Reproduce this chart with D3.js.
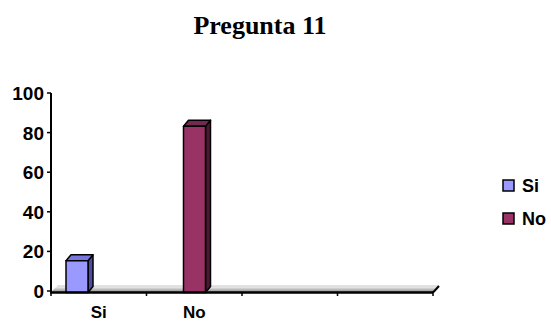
<!DOCTYPE html>
<html>
<head>
<meta charset="utf-8">
<script src="https://cdn.jsdelivr.net/npm/d3@7"></script>
<style>
  body { margin: 0; background: #fff; }
  text { font-family: Arial, "Liberation Sans", sans-serif; font-weight: bold; }
</style>
</head>
<body>
<div class="container"></div>
<script>
  // chart data
  var categories = ["Si", "No", "", ""];
  var seriesNames = ["Si", "No"];
  var valuesSi = [16, 0, 0, 0];
  var valuesNo = [0, 84, 0, 0];
  var yTicks = [0, 20, 40, 60, 80, 100];
  var title = "Pregunta 11";

  // frame attributes
  var w = 551;
  var h = 322;
  var svg = d3.select(".container").append("svg").attr("width", w).attr("height", h);

  var colors = {
    Si: { front: "#9999ff", side: "#4c4ca0", top: "#7777dd" },
    No: { front: "#993366", side: "#4c1933", top: "#772850" }
  };

  var depthX = 5, depthY = -6;

  var x = d3.scaleBand().domain(d3.range(categories.length)).range([51, 433]);
  var xInner = d3.scaleBand().domain(seriesNames).range([15, 59]);
  var y = d3.scaleLinear().domain([0, 100]).range([291, 93]);

  // title
  svg.append("text")
    .attr("x", 260).attr("y", 34)
    .attr("text-anchor", "middle")
    .style("font-family", "'Liberation Serif', 'Times New Roman', serif")
    .style("font-size", "26px")
    .text(title);

  // floor
  var defs = svg.append("defs");
  var grad = defs.append("linearGradient").attr("id", "floorGrad")
    .attr("x1", 0).attr("y1", 0).attr("x2", 0).attr("y2", 1);
  grad.append("stop").attr("offset", "0%").attr("stop-color", "#ffffff");
  grad.append("stop").attr("offset", "100%").attr("stop-color", "#8c8c8c");

  var x0 = x.range()[0], x1 = x.range()[1];
  svg.append("polygon")
    .attr("points", [[x0, y(0) + 1], [x0 + 6, y(0) - 5], [x1 + 6, y(0) - 5], [x1, y(0) + 1]].join(" "))
    .attr("fill", "url(#floorGrad)");
  svg.append("line")
    .attr("x1", x0 + 6).attr("x2", x1 + 6)
    .attr("y1", y(0) - 5).attr("y2", y(0) - 5)
    .attr("stroke", "#c8c8c8").attr("stroke-width", 1);
  svg.append("line")
    .attr("x1", x1).attr("x2", x1 + 6)
    .attr("y1", y(0) + 1.5).attr("y2", y(0) - 5)
    .attr("stroke", "#000").attr("stroke-width", 2);

  // bars
  var bars = [];
  categories.forEach(function(c, i){
    bars.push({ cat: i, s: "Si", v: valuesSi[i] });
    bars.push({ cat: i, s: "No", v: valuesNo[i] });
  });
  bars = bars.filter(function(d){ return d.v > 0; });

  var g = svg.append("g").attr("stroke", "#000").attr("stroke-width", 1.5).attr("stroke-linejoin", "round");
  bars.forEach(function(d){
    var bx = x(d.cat) + xInner(d.s);
    var bw = xInner.bandwidth();
    var top = y(d.v) + 1.5;
    var bottom = y(0) + 1.5;
    // side
    g.append("polygon")
      .attr("points", [[bx + bw, top], [bx + bw + depthX, top + depthY], [bx + bw + depthX, bottom + depthY], [bx + bw, bottom]].join(" "))
      .attr("fill", colors[d.s].side);
    // top
    g.append("polygon")
      .attr("points", [[bx, top], [bx + depthX, top + depthY], [bx + bw + depthX, top + depthY], [bx + bw, top]].join(" "))
      .attr("fill", colors[d.s].top);
    // front
    g.append("rect")
      .attr("x", bx).attr("y", top)
      .attr("width", bw).attr("height", bottom - top)
      .attr("fill", colors[d.s].front);
  });

  // x axis
  svg.append("line")
    .attr("x1", x0).attr("x2", x1)
    .attr("y1", y(0) + 1.5).attr("y2", y(0) + 1.5)
    .attr("stroke", "#000").attr("stroke-width", 2.5);
  var xTickPos = d3.range(categories.length + 1).map(function(i){ return x0 + i * x.step(); });
  svg.selectAll(".xtick").data(xTickPos).enter().append("line")
    .attr("x1", function(d){ return d; }).attr("x2", function(d){ return d; })
    .attr("y1", y(0) + 1).attr("y2", y(0) + 5)
    .attr("stroke", "#000").attr("stroke-width", 1.5);
  svg.selectAll(".xlabel").data(categories).enter().append("text")
    .attr("x", function(d, i){ return x(i) + x.bandwidth() / 2; })
    .attr("y", 318)
    .attr("text-anchor", "middle")
    .style("font-size", "17px")
    .text(function(d){ return d; });

  // y axis
  svg.append("line")
    .attr("x1", x0).attr("x2", x0)
    .attr("y1", y(100)).attr("y2", y(0) + 2.5)
    .attr("stroke", "#000").attr("stroke-width", 2);
  svg.selectAll(".ytick").data(yTicks).enter().append("line")
    .attr("x1", x0 - 4).attr("x2", x0)
    .attr("y1", function(d){ return y(d); }).attr("y2", function(d){ return y(d); })
    .attr("stroke", "#000").attr("stroke-width", 1.5);
  svg.selectAll(".ylabel").data(yTicks).enter().append("text")
    .attr("x", 44)
    .attr("y", function(d){ return y(d) + 7; })
    .attr("text-anchor", "end")
    .style("font-size", "19px")
    .text(function(d){ return d; });

  // legend
  var legend = svg.append("g").selectAll("g").data(seriesNames).enter().append("g")
    .attr("transform", function(d, i){ return "translate(503," + (180 + i * 33) + ")"; });
  legend.append("rect")
    .attr("width", 11).attr("height", 11)
    .attr("fill", function(d){ return colors[d].front; })
    .attr("stroke", "#000").attr("stroke-width", 1.5);
  legend.append("text")
    .attr("x", 19).attr("y", 12)
    .style("font-size", "18px")
    .text(function(d){ return d; });
</script>
</body>
</html>
